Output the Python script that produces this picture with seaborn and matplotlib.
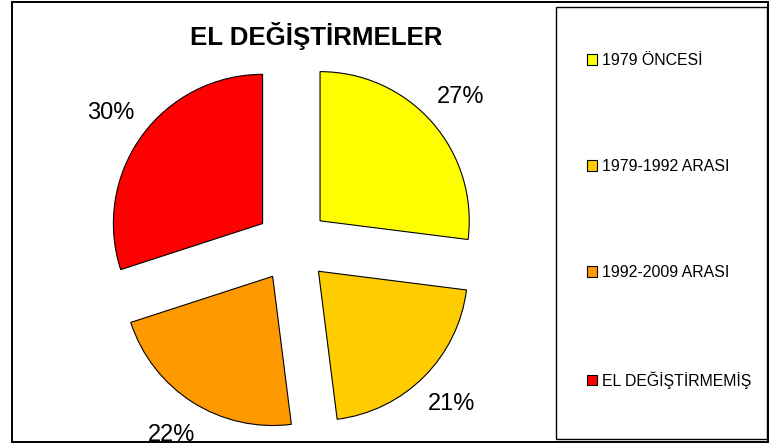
import matplotlib
matplotlib.use('Agg')
import matplotlib.pyplot as plt
from matplotlib.patches import Rectangle
import seaborn as sns

# data
categories = ['1979 ÖNCESİ', '1979-1992 ARASI', '1992-2009 ARASI', 'EL DEĞİŞTİRMEMİŞ']
shares = [27, 21, 22, 30]
colors = ['#FFFF00', '#FFCC00', '#FF9900', '#FF0000']

sns.set_theme(style='white')
plt.rcParams['font.family'] = ['Liberation Sans', 'DejaVu Sans']
plt.rcParams['text.color'] = 'black'

W, H = 771, 448
fig = plt.figure(figsize=(W / 100, H / 100), dpi=100)
fig.patch.set_facecolor('white')

# pie axes: center (292, 245) px, radius ~149 px
ax = fig.add_axes([92.4 / W, 2.8 / H, 400 / W, 400 / H])
wedges, texts, autotexts = ax.pie(
    shares, colors=colors, startangle=90, counterclock=False,
    explode=[0.247] * 4, autopct='%1.0f%%', pctdistance=1.26,
    wedgeprops=dict(edgecolor='black', linewidth=0.8))
for t in autotexts:
    t.set_fontsize(17)
    t.set_color('black')
    t.set_clip_on(False)
ax.set_xlim(-1.3405, 1.3405)
ax.set_ylim(-1.3405, 1.3405)
ax.set_aspect('equal')
ax.axis('off')

fig.text(316.5 / W, 1 - 35.5 / H, 'EL DEĞİŞTİRMELER', ha='center', va='center',
         fontsize=18.6, fontweight='bold', color='black')

# borders
fig.add_artist(Rectangle((11.5 / W, 1 - 442 / H), 756 / W, 440 / H, transform=fig.transFigure,
                         fill=False, edgecolor='black', linewidth=1.4))
fig.add_artist(Rectangle((556 / W, 1 - 439 / H), 211 / W, 432 / H, transform=fig.transFigure,
                         fill=False, edgecolor='black', linewidth=1.0))

leg = fig.legend(wedges, categories, loc='upper left', bbox_to_anchor=(587 / W, 1 - 53 / H),
                 frameon=False, fontsize=11.4, labelspacing=5.75, handlelength=0.63,
                 handleheight=0.63, handletextpad=0.32, borderaxespad=0, borderpad=0)

fig.savefig('out.png', dpi=100)
